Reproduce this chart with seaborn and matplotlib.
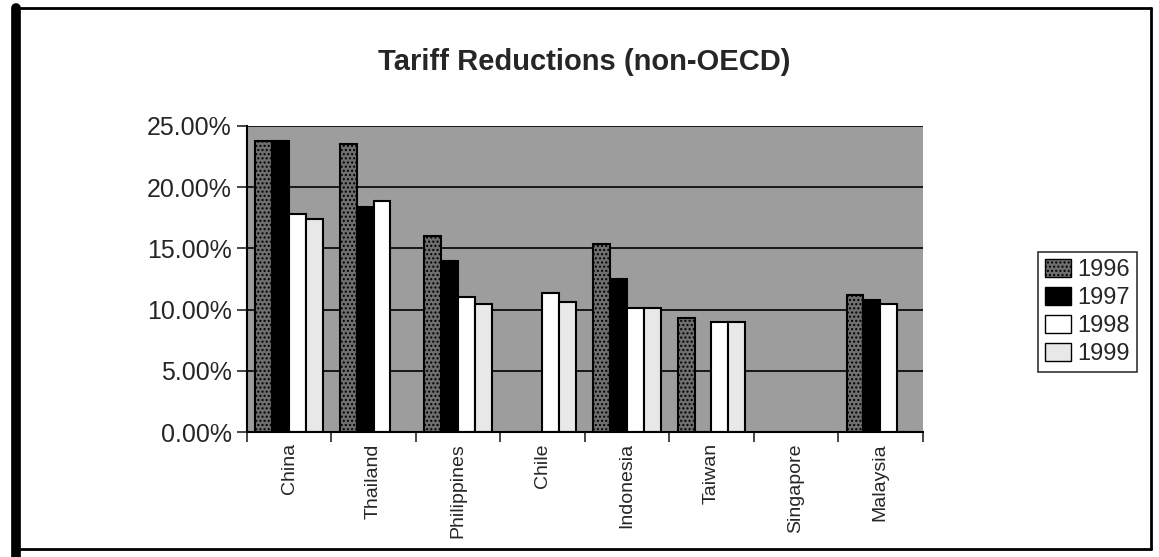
import pandas as pd
import matplotlib.pyplot as plt
import seaborn as sns
from matplotlib.ticker import PercentFormatter, FixedLocator
from matplotlib.lines import Line2D

# valores (em %)
paises = ['China', 'Thailand', 'Philippines', 'Chile', 'Indonesia',
          'Taiwan', 'Singapore', 'Malaysia']
anos = ['1996', '1997', '1998', '1999']
v1996 = [23.8, 23.5, 16.0, 0.0, 15.4, 9.3, 0.0, 11.2]
v1997 = [23.8, 18.4, 14.0, 0.0, 12.5, 0.0, 0.0, 10.8]
v1998 = [17.8, 18.9, 11.0, 11.4, 10.1, 9.0, 0.0, 10.5]
v1999 = [17.4, 0.0, 10.5, 10.6, 10.1, 9.0, 0.0, 0.0]

df = pd.DataFrame({'pais': paises * 4,
                   'ano': [a for a in anos for _ in paises],
                   'valor': v1996 + v1997 + v1998 + v1999})

sns.set_style('white')
plt.rcParams['font.family'] = ['Liberation Sans', 'DejaVu Sans']

fig = plt.figure(figsize=(11.59, 5.57), dpi=100)
ax = fig.add_axes([0.213, 0.224, 0.583, 0.55])

cores = ['#6f6f6f', '#000000', '#ffffff', '#e8e8e8']
sns.barplot(data=df, x='pais', y='valor', hue='ano', palette=cores,
            edgecolor='black', linewidth=1.5, width=0.8, ax=ax, legend=False)

for barra in ax.containers[0]:
    barra.set_hatch('....')

ax.set_facecolor('#9d9d9d')
ax.set_ylim(0, 25)
ax.set_xlim(-0.5, 7.5)
ax.yaxis.set_major_formatter(PercentFormatter(decimals=2))
ax.set_yticks([0, 5, 10, 15, 20, 25])
ax.grid(axis='y', color='black', linewidth=1.2)
ax.set_axisbelow(True)
ax.set_xlabel('')
ax.set_ylabel('')
for lado in ['top', 'right']:
    ax.spines[lado].set_visible(False)
ax.spines['left'].set_color('black')
ax.spines['bottom'].set_color('black')
ax.spines['left'].set_linewidth(1.5)
ax.spines['bottom'].set_linewidth(1.5)

ax.tick_params(axis='y', which='major', direction='out', length=7, width=1.2,
               labelsize=18, pad=4, left=True)
ax.tick_params(axis='x', which='major', length=0, labelsize=14, pad=8)
ax.xaxis.set_minor_locator(FixedLocator([i - 0.5 for i in range(9)]))
ax.tick_params(axis='x', which='minor', direction='out', length=7,
               width=1.2, bottom=True)
plt.setp(ax.get_xticklabels(), rotation=90)

ax.set_title('Tariff Reductions (non-OECD)', fontsize=21, fontweight='bold',
             pad=40)

alcas = [plt.Rectangle((0, 0), 1, 1, facecolor=c, edgecolor='black',
                       hatch='....' if i == 0 else None)
         for i, c in enumerate(cores)]
leg = fig.legend(alcas, anos, loc='center left',
                 bbox_to_anchor=(0.885, 0.44), fontsize=17, frameon=True,
                 fancybox=False, edgecolor='black', borderpad=0.3,
                 handlelength=1.1, handleheight=0.8, handletextpad=0.3,
                 labelspacing=0.25)
leg.get_frame().set_linewidth(1.2)

# moldura externa
fig.add_artist(Line2D([0.014, 0.014], [0.0, 0.985], color='black', lw=7))
fig.add_artist(Line2D([0.014, 0.993], [0.985, 0.985], color='black', lw=2))
fig.add_artist(Line2D([0.993, 0.993], [0.985, 0.015], color='black', lw=2))
fig.add_artist(Line2D([0.014, 0.993], [0.015, 0.015], color='black', lw=2))

fig.savefig('out.png', dpi=100)
